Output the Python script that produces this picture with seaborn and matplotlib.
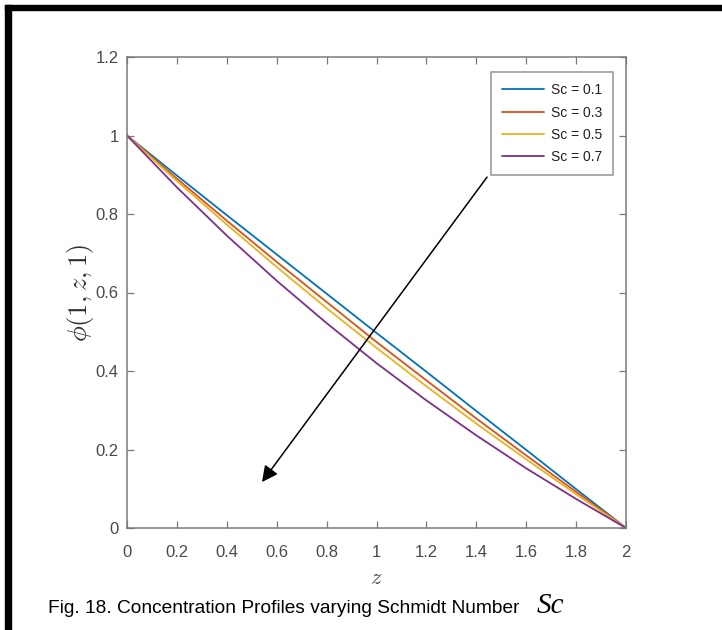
import matplotlib
matplotlib.use("Agg")
import matplotlib.pyplot as plt
import seaborn as sns
import pandas as pd
from matplotlib.patches import Rectangle

z_vals = [0.0, 0.2, 0.4, 0.6, 0.8, 1.0, 1.2, 1.4, 1.6, 1.8, 2.0]
phi_sc01 = [1.0, 0.898, 0.797, 0.697, 0.597, 0.497, 0.398, 0.298, 0.199, 0.099, 0.0]
phi_sc03 = [1.0, 0.890, 0.783, 0.678, 0.576, 0.474, 0.376, 0.279, 0.185, 0.092, 0.0]
phi_sc05 = [1.0, 0.884, 0.773, 0.665, 0.560, 0.459, 0.361, 0.266, 0.175, 0.086, 0.0]
phi_sc07 = [1.0, 0.868, 0.745, 0.630, 0.522, 0.420, 0.325, 0.236, 0.152, 0.074, 0.0]
labels = ["Sc = 0.1", "Sc = 0.3", "Sc = 0.5", "Sc = 0.7"]
colors = ["#0072BD", "#D95319", "#EDB120", "#7E2F8E"]

rows = []
for lab, ser in zip(labels, [phi_sc01, phi_sc03, phi_sc05, phi_sc07]):
    for z, p in zip(z_vals, ser):
        rows.append({"z": z, "phi": p, "series": lab})
df = pd.DataFrame(rows)

sns.set_theme(style="white")
plt.rcParams['font.family'] = ['Liberation Sans', 'DejaVu Sans']
plt.rcParams['mathtext.fontset'] = 'cm'

fig = plt.figure(figsize=(7.22, 6.30), dpi=100)
ax = fig.add_axes([127/722, 1-528/630, 499/722, 471/630])

sns.lineplot(data=df, x="z", y="phi", hue="series", palette=colors,
             hue_order=labels, ax=ax, linewidth=1.3, legend=True)

ax.set_xlim(0, 2)
ax.set_ylim(0, 1.2)
ax.set_xticks([0, 0.2, 0.4, 0.6, 0.8, 1, 1.2, 1.4, 1.6, 1.8, 2])
ax.set_xticklabels(["0", "0.2", "0.4", "0.6", "0.8", "1", "1.2", "1.4", "1.6", "1.8", "2"])
ax.set_yticks([0, 0.2, 0.4, 0.6, 0.8, 1, 1.2])
ax.set_yticklabels(["0", "0.2", "0.4", "0.6", "0.8", "1", "1.2"])
ax.tick_params(direction="in", length=5, width=0.9, colors="#7a7a7a",
               labelcolor="#4a4a4a", labelsize=12, top=True, right=True,
               bottom=True, left=True)
ax.tick_params(axis="x", pad=12)
ax.tick_params(axis="y", pad=6)
for s in ax.spines.values():
    s.set_color("#7a7a7a")
    s.set_linewidth(1.1)

ax.set_xlabel(r"$z$", fontsize=16, color="#505050", labelpad=6)
ax.set_ylabel(r"$\phi(1,z,1)$", fontsize=19, color="#303030", labelpad=0)

leg = ax.legend(loc="upper right", bbox_to_anchor=(0.974, 0.968), fontsize=10,
                frameon=True, fancybox=False, edgecolor="#7a7a7a",
                handlelength=3.0, handletextpad=0.5, borderpad=0.8,
                labelspacing=0.6, borderaxespad=0)
leg.get_frame().set_linewidth(1.1)
for t in leg.get_texts():
    t.set_color("#202020")

ax.annotate("", xy=(0.541, 0.117), xytext=(1.443, 0.894),
            arrowprops=dict(arrowstyle="-|>", color="black", lw=1.1,
                            mutation_scale=24, shrinkA=0, shrinkB=0))

fig.text(48/722, 1-613/630, "Fig. 18. Concentration Profiles varying Schmidt Number",
         fontsize=13.8, color="black", ha="left", va="baseline")
fig.text(537/722, 1-613/630, "Sc", fontsize=21, color="black", ha="left",
         va="baseline", family=["Liberation Serif", "DejaVu Serif"], style="italic")

# black frame (top and left)
fig.patches.append(Rectangle((5/722, 1-10/630), 1.0, 5/630, transform=fig.transFigure,
                             color="black", zorder=10))
fig.patches.append(Rectangle((5/722, 0), 6/722, 1-5/630, transform=fig.transFigure,
                             color="black", zorder=10))

fig.savefig("out.png", dpi=100)
